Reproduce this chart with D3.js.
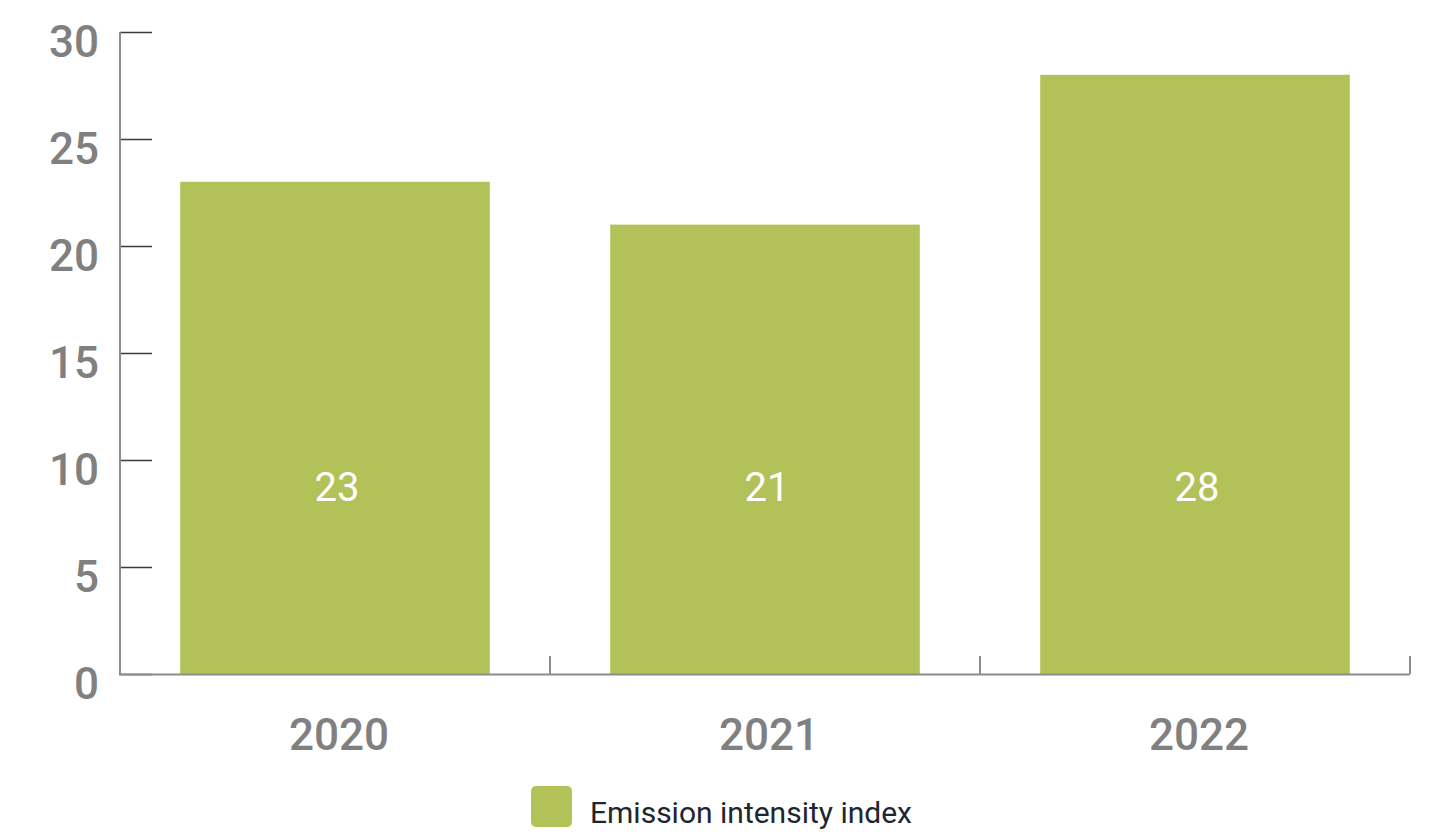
<!DOCTYPE html>
<html>
<head>
<meta charset="utf-8">
<script src="https://cdn.jsdelivr.net/npm/d3@7"></script>
<style>
  html, body { margin: 0; padding: 0; background: #fff; }
  svg { display: block; }
</style>
</head>
<body>
<svg id="chart" width="1439" height="832"></svg>
<script>
// Emission intensity index by year
const years = ["2020", "2021", "2022"];
const intensity = [23, 21, 28];
const yTicks = [0, 5, 10, 15, 20, 25, 30];
const seriesName = "Emission intensity index";

const plotLeft = 120, plotRight = 1410, plotTop = 32, plotBottom = 674;
const barColor = "#b2c258";
const axisColor = "#8c8c8c";
const labelColor = "#808080";

const svg = d3.select("#chart");

const x = d3.scaleBand().domain(years).range([plotLeft, plotRight]).padding(0);
const y = d3.scaleLinear().domain([0, 30]).range([plotBottom, plotTop]);
const barFrac = 0.72;

const rows = years.map((yr, i) => ({ yr, v: intensity[i] }));

// Bars
svg.append("g").selectAll("rect")
  .data(rows)
  .join("rect")
  .attr("x", d => x(d.yr) + x.bandwidth() * (1 - barFrac) / 2)
  .attr("width", x.bandwidth() * barFrac)
  .attr("y", d => y(d.v))
  .attr("height", d => y(0) - y(d.v))
  .attr("fill", barColor);

// Value labels inside the bars
svg.append("g").selectAll("text")
  .data(rows)
  .join("text")
  .attr("x", d => x(d.yr) + x.bandwidth() / 2 + 2)
  .attr("y", 501)
  .attr("text-anchor", "middle")
  .attr("font-family", "Roboto, sans-serif")
  .attr("font-weight", 400)
  .attr("font-size", 40)
  .attr("fill", "#ffffff")
  .text(d => d.v);

// Y axis: line on the left, ticks pointing into the plot
const yAxis = d3.axisRight(y).tickValues(yTicks).tickSize(32).tickFormat("");
const gy = svg.append("g").attr("transform", `translate(${plotLeft},0)`).call(yAxis);
gy.select(".domain").remove();
gy.selectAll(".tick line").attr("stroke", "#3a3a3a").attr("stroke-width", 1.5);
svg.append("line")
  .attr("x1", plotLeft).attr("x2", plotLeft).attr("y1", y(30)).attr("y2", y(0))
  .attr("stroke", axisColor).attr("stroke-width", 2);

svg.append("g").selectAll("text")
  .data(yTicks)
  .join("text")
  .attr("x", 99)
  .attr("y", d => y(d) + 25)
  .attr("text-anchor", "end")
  .attr("font-family", "Roboto, sans-serif")
  .attr("font-weight", 500)
  .attr("font-size", 44)
  .attr("fill", labelColor)
  .text(d => d);

// X axis: baseline with band boundary ticks pointing up
svg.append("line")
  .attr("x1", plotLeft - 1).attr("x2", plotRight).attr("y1", plotBottom + 0.5).attr("y2", plotBottom + 0.5)
  .attr("stroke", axisColor).attr("stroke-width", 2);
const bounds = years.map(d => x(d)).concat([plotRight]);
svg.append("g").selectAll("line")
  .data(bounds)
  .join("line")
  .attr("x1", d => d).attr("x2", d => d)
  .attr("y1", plotBottom).attr("y2", plotBottom - 18)
  .attr("stroke", axisColor).attr("stroke-width", 2);

svg.append("g").selectAll("text")
  .data(years)
  .join("text")
  .attr("x", d => x(d) + x.bandwidth() / 2 + 4)
  .attr("y", 750)
  .attr("text-anchor", "middle")
  .attr("font-family", "Roboto, sans-serif")
  .attr("font-weight", 500)
  .attr("font-size", 44)
  .attr("fill", labelColor)
  .text(d => d);

// Legend
const lg = svg.append("g").attr("transform", "translate(531,786)");
lg.append("rect")
  .attr("width", 41).attr("height", 41).attr("rx", 5)
  .attr("fill", barColor);
lg.append("text")
  .attr("x", 59).attr("y", 37)
  .attr("font-family", "Roboto, sans-serif")
  .attr("font-size", 30)
  .attr("fill", "#1e2630")
  .text(seriesName);
</script>
</body>
</html>
